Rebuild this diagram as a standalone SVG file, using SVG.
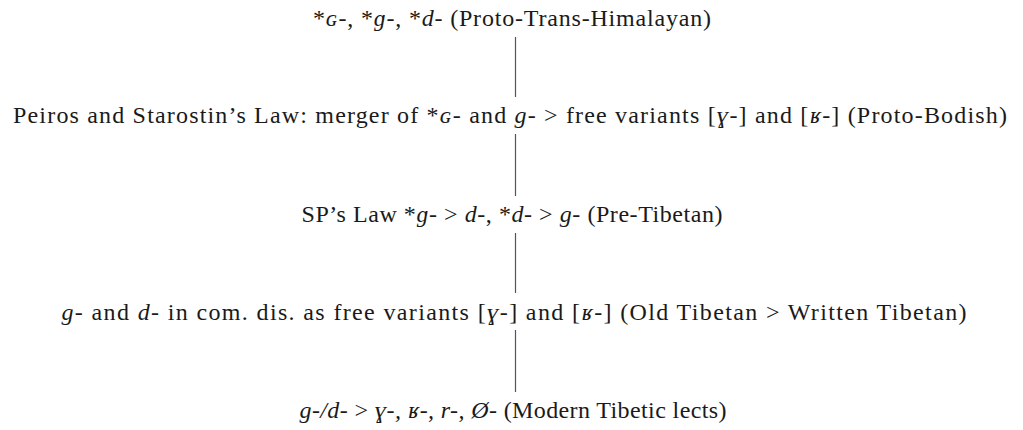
<svg xmlns="http://www.w3.org/2000/svg" width="1023" height="430" viewBox="0 0 1023 430">
<style>
.t{font-family:"Liberation Serif","Times New Roman",serif;font-size:24px;fill:#1a1a1a;text-anchor:middle}
.i{font-style:italic}
.c{stroke:#555;stroke-width:1.2;fill:none}
</style>
<rect width="1023" height="430" fill="#fff"/>
<g id="connectors">
<line class="c" x1="515.5" y1="37" x2="515.5" y2="97"/>
<line class="c" x1="515.5" y1="134" x2="515.5" y2="196"/>
<line class="c" x1="515.5" y1="233" x2="515.5" y2="293"/>
<line class="c" x1="515.5" y1="330" x2="515.5" y2="392"/>
</g>
<g id="n1"><text class="t" x="512" y="26" textLength="398" lengthAdjust="spacing">*<tspan class="i">ɢ-</tspan>, *<tspan class="i">ɡ-</tspan>, *<tspan class="i">d-</tspan> (Proto-Trans-Himalayan)</text></g>
<g id="n2"><text class="t" x="510" y="123" textLength="994" lengthAdjust="spacing">Peiros and Starostin’s Law: merger of *<tspan class="i">ɢ-</tspan> and <tspan class="i">g-</tspan> &gt; free variants [<tspan class="i">ɣ-</tspan>] and [<tspan class="i">ʁ-</tspan>] (Proto-Bodish)</text></g>
<g id="n3"><text class="t" x="512" y="222" textLength="421" lengthAdjust="spacing">SP’s Law *<tspan class="i">ɡ-</tspan> &gt; <tspan class="i">d-</tspan>, *<tspan class="i">d-</tspan> &gt; <tspan class="i">g-</tspan> (Pre-Tibetan)</text></g>
<g id="n4"><text class="t" x="514" y="320" textLength="905" lengthAdjust="spacing"><tspan class="i">g-</tspan> and <tspan class="i">d-</tspan> in com. dis. as free variants [<tspan class="i">ɣ-</tspan>] and [<tspan class="i">ʁ-</tspan>] (Old Tibetan &gt; Written Tibetan)</text></g>
<g id="n5"><text class="t" x="513" y="418" textLength="427" lengthAdjust="spacing"><tspan class="i">g-/d-</tspan> &gt; <tspan class="i">ɣ-, ʁ-, r-, Ø-</tspan> (Modern Tibetic lects)</text></g>
</svg>
